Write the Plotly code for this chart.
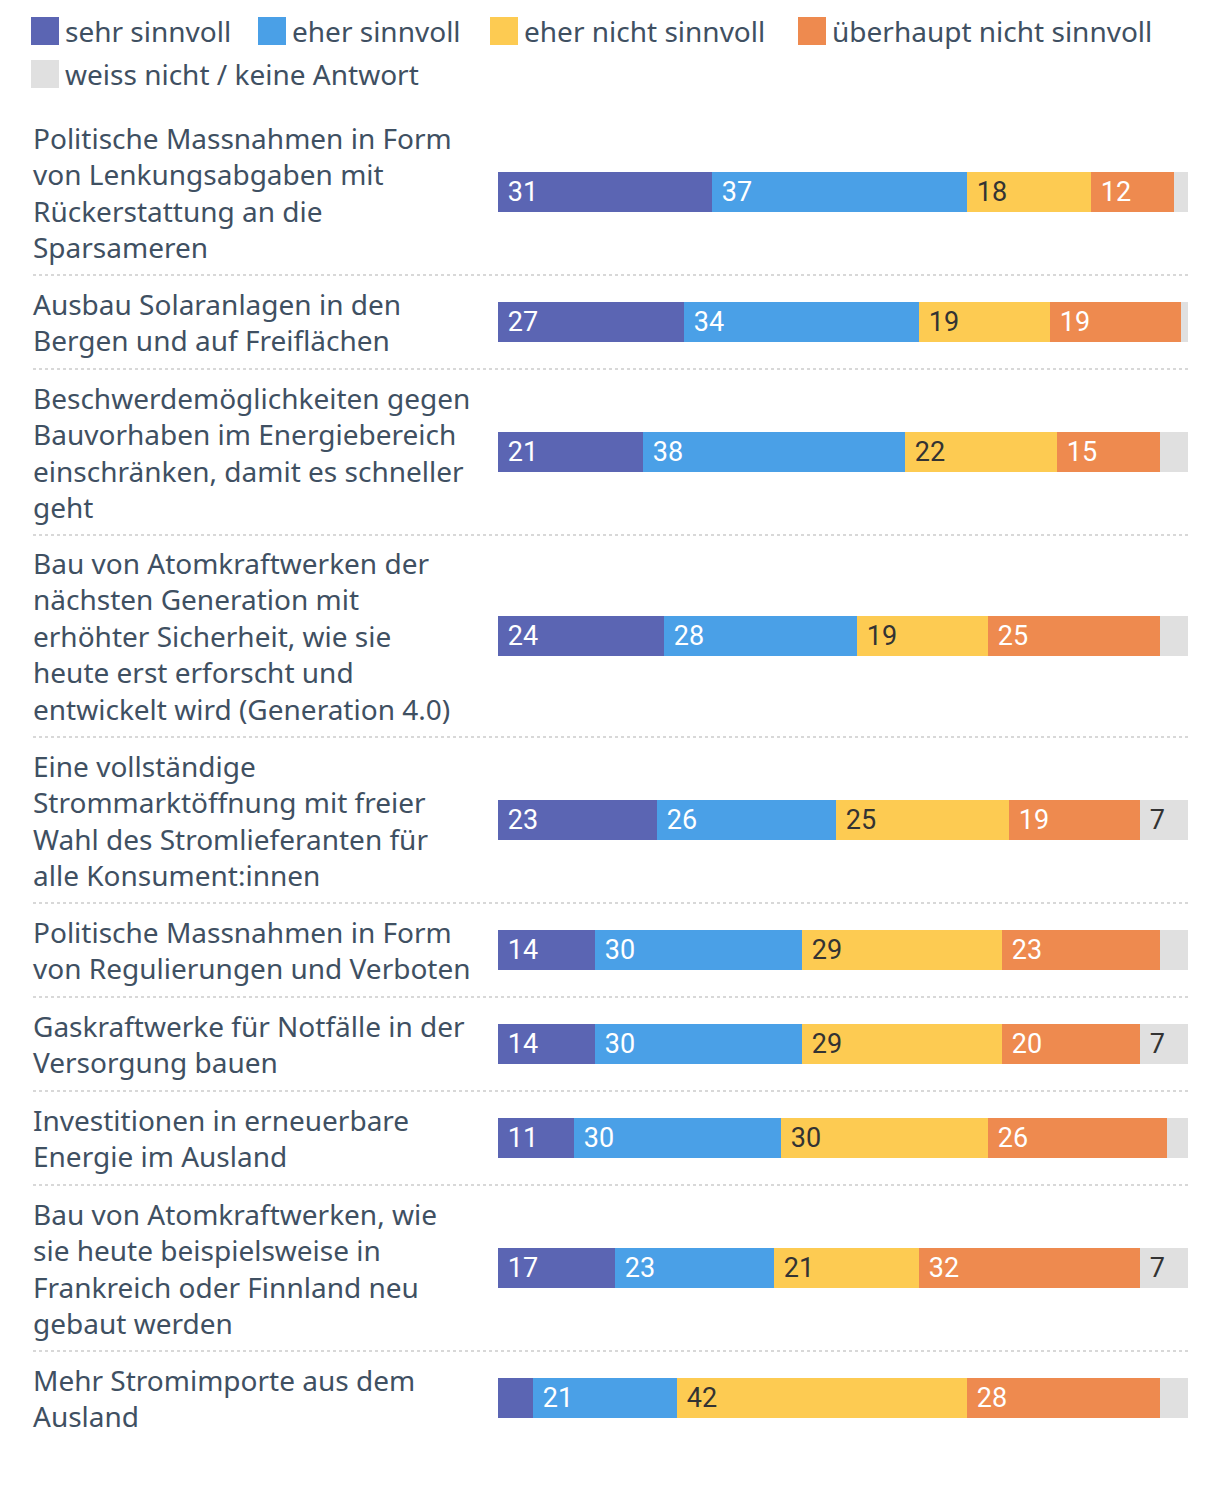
import plotly.graph_objects as go

W, H = 1220, 1486

labels = [
    "Politische Massnahmen in Form<br>von Lenkungsabgaben mit<br>Rückerstattung an die<br>Sparsameren",
    "Ausbau Solaranlagen in den<br>Bergen und auf Freiflächen",
    "Beschwerdemöglichkeiten gegen<br>Bauvorhaben im Energiebereich<br>einschränken, damit es schneller<br>geht",
    "Bau von Atomkraftwerken der<br>nächsten Generation mit<br>erhöhter Sicherheit, wie sie<br>heute erst erforscht und<br>entwickelt wird (Generation 4.0)",
    "Eine vollständige<br>Strommarktöffnung mit freier<br>Wahl des Stromlieferanten für<br>alle Konsument:innen",
    "Politische Massnahmen in Form<br>von Regulierungen und Verboten",
    "Gaskraftwerke für Notfälle in der<br>Versorgung bauen",
    "Investitionen in erneuerbare<br>Energie im Ausland",
    "Bau von Atomkraftwerken, wie<br>sie heute beispielsweise in<br>Frankreich oder Finnland neu<br>gebaut werden",
    "Mehr Stromimporte aus dem<br>Ausland",
]

series_names = ["sehr sinnvoll", "eher sinnvoll", "eher nicht sinnvoll",
                "überhaupt nicht sinnvoll", "weiss nicht / keine Antwort"]
sehr_sinnvoll = [31, 27, 21, 24, 23, 14, 14, 11, 17, 5]
eher_sinnvoll = [37, 34, 38, 28, 26, 30, 30, 30, 23, 21]
eher_nicht_sinnvoll = [18, 19, 22, 19, 25, 29, 29, 30, 21, 42]
ueberhaupt_nicht_sinnvoll = [12, 19, 15, 25, 19, 23, 20, 26, 32, 28]
weiss_nicht = [2, 1, 4, 4, 7, 4, 7, 3, 7, 4]

series_values = [sehr_sinnvoll, eher_sinnvoll, eher_nicht_sinnvoll,
                 ueberhaupt_nicht_sinnvoll, weiss_nicht]
colors = ["#5b65b3", "#4aa0e7", "#fdcb52", "#ee8a4f", "#e0e0e0"]
text_colors = ["#ffffff", "#ffffff", "#333333", "#ffffff", "#333333"]

LABEL_FONT = "Noto Sans"
VALUE_FONT = "Roboto"
TEXT_COLOR = "#3f5062"
LINE_H = 36
ROW_PAD = 22
TOP = 109

# row layout (pixel-based y axis)
centers, seps = [], []
y = TOP
for lab in labels:
    n = lab.count("<br>") + 1
    h = n * LINE_H + ROW_PAD
    centers.append(y + h / 2)
    y += h
    seps.append(y)
seps = seps[:-1]

fig = go.Figure()
for name, vals, col, tcol in zip(series_names, series_values, colors, text_colors):
    fig.add_trace(go.Bar(
        y=centers, x=vals, orientation="h", name=name, width=40,
        marker=dict(color=col, line=dict(width=0)),
        text=["\u00a0" + str(v) if v >= 7 else "" for v in vals],
        textposition="inside", insidetextanchor="start",
        constraintext="none",
        textfont=dict(family=VALUE_FONT, size=27, color=tcol),
        hoverinfo="skip", showlegend=False,
    ))

annotations = []
shapes = []
for lab, c in zip(labels, centers):
    annotations.append(dict(
        text=lab, x=31 / W, xref="paper", y=c, yref="y",
        xanchor="left", yanchor="middle", align="left", showarrow=False,
        font=dict(family=LABEL_FONT, size=28, color=TEXT_COLOR),
    ))
for s in seps:
    shapes.append(dict(type="line", xref="paper", yref="y",
                       x0=33 / W, x1=1188 / W, y0=s, y1=s,
                       line=dict(color="#d8d8d8", width=2, dash="dot")))

# custom legend
legend_pos = [(31, 31), (258, 31), (490, 31), (798, 31), (31, 74)]
for (lx, ly), name, col in zip(legend_pos, series_names, colors):
    shapes.append(dict(type="rect", xref="paper", yref="y",
                       x0=lx / W, x1=(lx + 28) / W, y0=ly - 14, y1=ly + 14,
                       fillcolor=col, line=dict(width=0)))
    annotations.append(dict(
        text=name, x=(lx + 32) / W, xref="paper", y=ly, yref="y",
        xanchor="left", yanchor="middle", showarrow=False,
        font=dict(family=LABEL_FONT, size=28, color=TEXT_COLOR),
    ))

fig.update_layout(
    width=W, height=H,
    margin=dict(l=0, r=0, t=0, b=0),
    barmode="stack",
    bargap=0,
    paper_bgcolor="white", plot_bgcolor="white",
    xaxis=dict(domain=[498 / W, 1188 / W], range=[0, 100], visible=False,
               fixedrange=True),
    yaxis=dict(range=[H, 0], visible=False, fixedrange=True),
    annotations=annotations, shapes=shapes,
    showlegend=False,
)

fig.write_html("out.html")
